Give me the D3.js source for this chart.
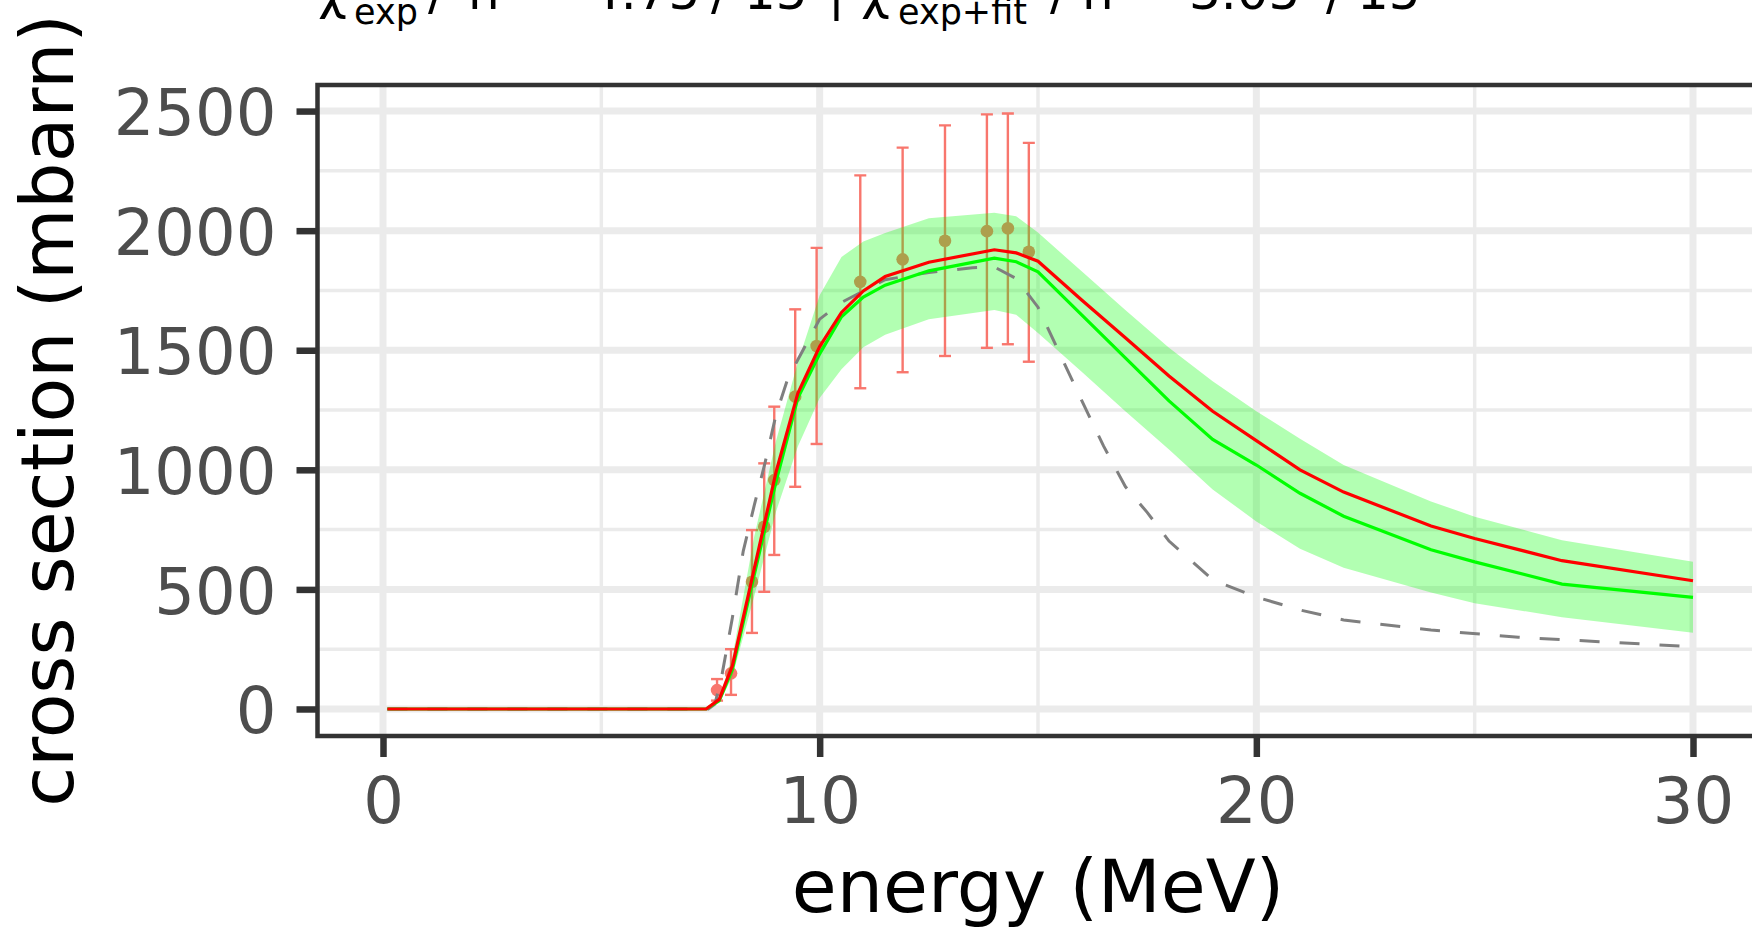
<!DOCTYPE html>
<html lang="en">
<head>
<meta charset="utf-8">
<script src="https://d3js.org/d3.v7.min.js"></script>
<style>
  body { margin: 0; background: white; }
  svg { display: block; font-family: "DejaVu Sans", sans-serif; }
</style>
</head>
<body>
<script>
// experimental data (energy in MeV, cross section in mbarn)
var expEnergy = [7.65, 7.97, 8.45, 8.73, 8.96, 9.44, 9.93, 10.93, 11.90, 12.87, 13.83, 14.31, 14.79];
var expValue  = [79, 149, 532, 762, 957, 1306, 1518, 1786, 1880, 1958, 1998, 2010, 1912];
var expLow    = [35, 59, 318, 490, 644, 929, 1108, 1341, 1408, 1476, 1510, 1525, 1452];
var expHigh   = [125, 250, 748, 1027, 1264, 1671, 1928, 2231, 2347, 2440, 2486, 2490, 2367];

// model curves on a common energy grid
var modelEnergy = [0.1, 7.4, 7.7, 8, 8.5, 9, 9.5, 10, 10.5, 11, 11.5, 12.5, 14, 14.5, 15, 16, 17, 18, 19, 20, 21, 22, 24, 25, 27, 30];
var fitValue  = [0, 0, 40, 180, 585, 990, 1320, 1515, 1658, 1748, 1808, 1868, 1920, 1907, 1872, 1710, 1552, 1392, 1245, 1122, 1000, 907, 765, 713, 620, 536];
var postValue = [0, 0, 35, 165, 560, 950, 1300, 1485, 1640, 1722, 1772, 1832, 1885, 1870, 1828, 1648, 1468, 1288, 1127, 1020, 902, 806, 666, 615, 522, 467];
var bandLow   = [0, 0, 25, 135, 470, 825, 1097, 1300, 1420, 1512, 1565, 1630, 1668, 1648, 1572, 1410, 1245, 1085, 918, 784, 670, 590, 487, 442, 384, 319];
var bandHigh  = [0, 0, 48, 215, 720, 1120, 1450, 1730, 1890, 1955, 1990, 2052, 2075, 2060, 1992, 1830, 1668, 1510, 1370, 1245, 1130, 1020, 868, 804, 705, 616];

// default (prior) curve, dashed
var priorEnergy = [0.1, 7.45, 7.6, 7.75, 8, 8.25, 8.5, 8.75, 9, 9.25, 9.5, 10, 10.5, 11.5, 12.5, 13.5, 14, 14.5, 15, 15.5, 16, 16.5, 17, 17.5, 18, 19, 20, 21, 22, 24, 26, 28, 30];
var priorValue  = [0, 0, 20, 130, 380, 660, 850, 1030, 1230, 1370, 1460, 1630, 1700, 1795, 1825, 1845, 1848, 1800, 1680, 1485, 1290, 1100, 930, 822, 702, 540, 468, 414, 372, 330, 300, 280, 260];

var xTicks = [0, 10, 20, 30];
var xMinor = [5, 15, 25];
var yTicks = [0, 500, 1000, 1500, 2000, 2500];
var yMinor = [250, 750, 1250, 1750, 2250];

var titleParts = [
  {t: "χ", x: 318, kind: "main"},
  {t: "2", x: 353, kind: "sup"},
  {t: "exp", x: 354, kind: "sub"},
  {t: "/", x: 428, kind: "main"},
  {t: "n", x: 468, kind: "main"},
  {t: "=", x: 515, kind: "main"},
  {t: "4.75", x: 589, kind: "main"},
  {t: "/", x: 711, kind: "main"},
  {t: "15", x: 744, kind: "main"},
  {t: "|", x: 828, kind: "main"},
  {t: "χ", x: 861, kind: "main"},
  {t: "2", x: 896, kind: "sup"},
  {t: "exp+fit", x: 898, kind: "sub"},
  {t: "/", x: 1050, kind: "main"},
  {t: "n", x: 1082, kind: "main"},
  {t: "=", x: 1132, kind: "main"},
  {t: "3.05", x: 1189, kind: "main"},
  {t: "/", x: 1326, kind: "main"},
  {t: "15", x: 1357, kind: "main"}
];

var W = 1752, H = 927;
var pLeft = 317.5, pRight = 1758.5, pTop = 85, pBottom = 736;

var svg = d3.select("body").append("svg")
    .attr("width", W)
    .attr("height", H)
    .style("overflow", "hidden");

var x = d3.scaleLinear().domain([-1.5, 31.5]).range([pLeft, pRight]);
var y = d3.scaleLinear().domain([-113, 2609]).range([pBottom, pTop]);

svg.append("clipPath").attr("id", "panel")
  .append("rect")
    .attr("x", pLeft).attr("y", pTop)
    .attr("width", pRight - pLeft).attr("height", pBottom - pTop);

// grid
var grid = svg.append("g").attr("clip-path", "url(#panel)");
grid.selectAll(".ymin").data(yMinor).enter().append("line")
    .attr("x1", pLeft).attr("x2", pRight)
    .attr("y1", function(d) { return y(d); }).attr("y2", function(d) { return y(d); })
    .attr("stroke", "#EBEBEB").attr("stroke-width", 3.5);
grid.selectAll(".xmin").data(xMinor).enter().append("line")
    .attr("y1", pTop).attr("y2", pBottom)
    .attr("x1", function(d) { return x(d); }).attr("x2", function(d) { return x(d); })
    .attr("stroke", "#EBEBEB").attr("stroke-width", 3.5);
grid.selectAll(".ymaj").data(yTicks).enter().append("line")
    .attr("x1", pLeft).attr("x2", pRight)
    .attr("y1", function(d) { return y(d); }).attr("y2", function(d) { return y(d); })
    .attr("stroke", "#EBEBEB").attr("stroke-width", 7);
grid.selectAll(".xmaj").data(xTicks).enter().append("line")
    .attr("y1", pTop).attr("y2", pBottom)
    .attr("x1", function(d) { return x(d); }).attr("x2", function(d) { return x(d); })
    .attr("stroke", "#EBEBEB").attr("stroke-width", 7);

var plot = svg.append("g").attr("clip-path", "url(#panel)");

// error bars and points
var expData = expEnergy.map(function(e, i) {
  return {e: e, v: expValue[i], lo: expLow[i], hi: expHigh[i]};
});
var bars = plot.append("g").attr("stroke", "#F8766D").attr("stroke-width", 2.4).attr("fill", "none");
expData.forEach(function(d) {
  bars.append("line").attr("x1", x(d.e)).attr("x2", x(d.e)).attr("y1", y(d.lo)).attr("y2", y(d.hi));
  bars.append("line").attr("x1", x(d.e) - 6).attr("x2", x(d.e) + 6).attr("y1", y(d.lo)).attr("y2", y(d.lo));
  bars.append("line").attr("x1", x(d.e) - 6).attr("x2", x(d.e) + 6).attr("y1", y(d.hi)).attr("y2", y(d.hi));
});
plot.append("g").selectAll("circle").data(expData).enter().append("circle")
    .attr("cx", function(d) { return x(d.e); })
    .attr("cy", function(d) { return y(d.v); })
    .attr("r", 6.3)
    .attr("fill", "#F8766D");

// uncertainty band
var model = modelEnergy.map(function(e, i) {
  return {e: e, fit: fitValue[i], post: postValue[i], lo: bandLow[i], hi: bandHigh[i]};
});
plot.append("path").datum(model)
    .attr("d", d3.area()
      .x(function(d) { return x(d.e); })
      .y0(function(d) { return y(d.lo); })
      .y1(function(d) { return y(d.hi); }))
    .attr("fill", "#00FF00").attr("fill-opacity", 0.3);

// prior dashed line
var prior = priorEnergy.map(function(e, i) { return {e: e, v: priorValue[i]}; });
plot.append("path").datum(prior)
    .attr("d", d3.line().x(function(d) { return x(d.e); }).y(function(d) { return y(d.v); }))
    .attr("fill", "none").attr("stroke", "#7F7F7F").attr("stroke-width", 3)
    .attr("stroke-dasharray", "20,20");

plot.append("path").datum(model)
    .attr("d", d3.line().x(function(d) { return x(d.e); }).y(function(d) { return y(d.post); }))
    .attr("fill", "none").attr("stroke", "#00FF00").attr("stroke-width", 3.2);

plot.append("path").datum(model)
    .attr("d", d3.line().x(function(d) { return x(d.e); }).y(function(d) { return y(d.fit); }))
    .attr("fill", "none").attr("stroke", "#FF0000").attr("stroke-width", 3.2);

// panel border
svg.append("rect")
    .attr("x", pLeft).attr("y", pTop)
    .attr("width", pRight - pLeft).attr("height", pBottom - pTop)
    .attr("fill", "none").attr("stroke", "#333333").attr("stroke-width", 4.5);

// axes
var yAxis = svg.append("g")
    .attr("transform", "translate(" + pLeft + ",0)")
    .call(d3.axisLeft(y).tickValues(yTicks).tickFormat(d3.format("d")).tickSize(21).tickPadding(20));
var xAxis = svg.append("g")
    .attr("transform", "translate(0," + pBottom + ")")
    .call(d3.axisBottom(x).tickValues(xTicks).tickFormat(d3.format("d")).tickSize(21).tickPadding(21));
[xAxis, yAxis].forEach(function(a) {
  a.select(".domain").remove();
  a.selectAll(".tick line").attr("stroke", "#333333").attr("stroke-width", 6.5);
  a.selectAll(".tick text")
    .attr("fill", "#4D4D4D")
    .style("font-family", "DejaVu Sans")
    .style("font-size", "64px");
});
yAxis.selectAll(".tick text").attr("dy", "0.37em");

// axis titles
svg.append("text")
    .attr("x", (pLeft + pRight) / 2)
    .attr("y", 911.7)
    .attr("text-anchor", "middle")
    .style("font-size", "73px")
    .text("energy (MeV)");

svg.append("text")
    .attr("transform", "translate(73," + (pTop + pBottom) / 2 + ") rotate(-90)")
    .attr("text-anchor", "middle")
    .style("font-size", "73px")
    .text("cross section (mbarn)");

// plot title (cut off at the top of the image)
var title = svg.append("text").style("font-size", "50px");
titleParts.forEach(function(p) {
  var ts = title.append("tspan").attr("x", p.x).text(p.t);
  if (p.kind == "main") ts.attr("y", 8.5);
  if (p.kind == "sub") ts.attr("y", 24).style("font-size", "35px");
  if (p.kind == "sup") ts.attr("y", -14).style("font-size", "35px");
});
</script>
</body>
</html>
